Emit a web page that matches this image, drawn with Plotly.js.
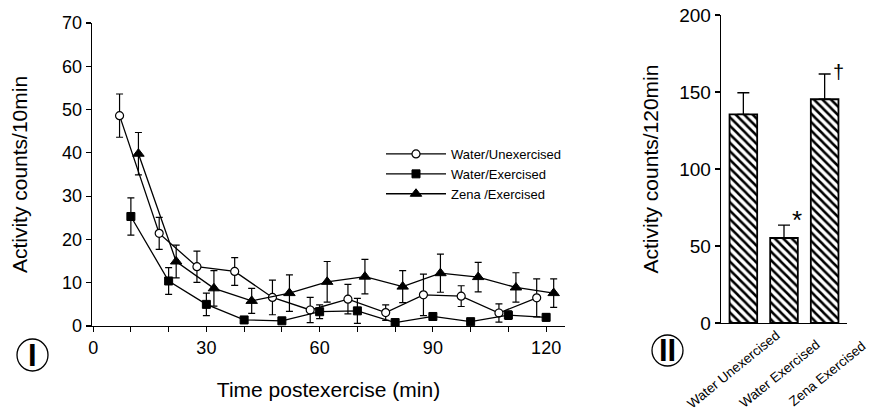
<!DOCTYPE html>
<html>
<head>
<meta charset="utf-8">
<script src="https://cdn.plot.ly/plotly-3.0.1.min.js"></script>
<style>html,body{margin:0;padding:0;background:#fff;}#chart{width:871px;height:412px;}</style>
</head>
<body>
<div id="chart"></div>
<script>
// ---- Panel I data (time course) ----
const seriesNames = ["Water/Unexercised", "Water/Exercised", "Zena /Exercised"];
const timeUnex = [7, 17.5, 27.5, 37.5, 47.5, 57.5, 67.5, 77.5, 87.5, 97.5, 107.5, 117.5];
const countsUnex = [48.6, 21.4, 13.7, 12.6, 6.6, 3.7, 6.2, 3.1, 7.2, 6.9, 3.0, 6.5];
const errUnex = [5.0, 3.7, 3.6, 3.2, 4.0, 2.9, 3.4, 1.8, 4.8, 2.4, 2.1, 4.4];
const timeEx = [10, 20, 30, 40, 50, 60, 70, 80, 90, 100, 110, 120];
const countsEx = [25.3, 10.4, 5.0, 1.4, 1.2, 3.3, 3.5, 0.8, 2.2, 1.0, 2.5, 2.0];
const errEx = [4.3, 3.1, 2.6, 0.8, 0.5, 1.6, 2.9, 0.5, 0.8, 0.5, 1.0, 0.8];
const timeZena = [12, 22, 32, 42, 52, 62, 72, 82, 92, 102, 112, 122];
const countsZena = [39.8, 14.9, 8.7, 5.8, 7.6, 10.2, 11.4, 9.1, 12.2, 11.3, 8.9, 7.6];
const errZena = [4.9, 3.8, 4.1, 2.9, 4.2, 4.7, 4.0, 3.7, 4.4, 3.4, 3.4, 3.3];
const xTickVals = [0, 10, 20, 30, 40, 50, 60, 70, 80, 90, 100, 110, 120];
const xTickText = ["0", "", "", "30", "", "", "60", "", "", "90", "", "", "120"];

// ---- Panel II data (totals) ----
const barCategories = ["Water Unexercised", "Water Exercised", "Zena Exercised"];
const barLabels = ["Water Unexercised", "Water Exercised", "Zena Exercised"];
const barTotals = [135.5, 55.2, 145.3];
const barErrors = [14.0, 8.4, 16.4];
const barMarks = ["", "*", "†"];

const W = 871, H = 412;
const px = v => v / W;
const py = v => 1 - v / H;
const font = "Liberation Sans, Arial, Helvetica, sans-serif";

function errObj(arr) {
  return {type: "data", array: arr, symmetric: true, color: "#000", thickness: 1.2, width: 3.5};
}
const lineStyle = {color: "#000", width: 1.3};

const traces = [
  {x: timeUnex, y: countsUnex, name: seriesNames[0], type: "scatter", mode: "lines+markers",
   line: lineStyle, marker: {symbol: "circle", size: 8, color: "#fff", line: {color: "#000", width: 1.2}},
   error_y: errObj(errUnex), xaxis: "x", yaxis: "y"},
  {x: timeEx, y: countsEx, name: seriesNames[1], type: "scatter", mode: "lines+markers",
   line: lineStyle, marker: {symbol: "square", size: 8, color: "#000", line: {color: "#000", width: 1}},
   error_y: errObj(errEx), xaxis: "x", yaxis: "y"},
  {x: timeZena, y: countsZena, name: seriesNames[2], type: "scatter", mode: "lines+markers",
   line: lineStyle, marker: {symbol: "triangle-up", size: 10, color: "#000", line: {color: "#000", width: 1}},
   error_y: errObj(errZena), xaxis: "x", yaxis: "y"},
  {x: barCategories, y: barTotals, type: "bar", showlegend: false, width: 0.68,
   marker: {color: "#fff", line: {color: "#000", width: 1.8},
            pattern: {shape: "\\", fgcolor: "#000", bgcolor: "#fff", size: 6, solidity: 0.42}},
   error_y: {type: "data", array: barErrors, arrayminus: barErrors.map(() => 0), symmetric: false,
             color: "#000", thickness: 1.3, width: 6},
   xaxis: "x2", yaxis: "y2"}
];

const annotations = [];
// significance marks
const markOffsets = [[0, 0], [0.33, 3.5], [0.33, 1]];
barMarks.forEach((m, i) => {
  if (!m) return;
  annotations.push({xref: "x2", yref: "y2", x: i + markOffsets[i][0], y: barTotals[i] + barErrors[i] + markOffsets[i][1],
    xanchor: "center", yanchor: "middle",
    text: m, showarrow: false, font: {family: font, size: m === "*" ? 26 : 20, color: "#000"}});
});
// rotated category labels
const labelX = [-0.25, 0.9, 2.07];
const labelY = [369, 373, 373];
barLabels.forEach((t, i) => {
  annotations.push({xref: "x2", yref: "paper", x: labelX[i], y: py(labelY[i]), text: t, textangle: -39,
    xanchor: "center", yanchor: "middle",
    showarrow: false, font: {family: font, size: 13.5, color: "#000"}});
});
// panel labels
annotations.push({xref: "paper", yref: "paper", x: px(32.5), y: py(355), text: "I", showarrow: false,
  xanchor: "center", yanchor: "middle",
  font: {family: "Liberation Sans, Arial", size: 31, color: "#000", weight: 700}});
annotations.push({xref: "paper", yref: "paper", x: px(667.5), y: py(350.5), text: "II", showarrow: false,
  xanchor: "center", yanchor: "middle",
  font: {family: "Liberation Sans, Arial", size: 31, color: "#000", weight: 700}});

const shapes = [
  {type: "circle", xref: "paper", yref: "paper", x0: px(17), x1: px(48), y0: py(371), y1: py(339),
   line: {color: "#000", width: 1.3}},
  {type: "circle", xref: "paper", yref: "paper", x0: px(652), x1: px(683), y0: py(366), y1: py(335),
   line: {color: "#000", width: 1.3}}
];

const axisCommon = {showgrid: false, zeroline: false, showline: true, linecolor: "#000", linewidth: 1.3,
  ticks: "outside", ticklen: 5, tickwidth: 1.2, tickcolor: "#000"};

const layout = {
  width: W, height: H, margin: {l: 0, r: 0, t: 0, b: 0},
  paper_bgcolor: "#fff", plot_bgcolor: "#fff",
  font: {family: font, color: "#000"},
  showlegend: true,
  legend: {x: px(381), y: py(139), xanchor: "left", yanchor: "top", bgcolor: "rgba(0,0,0,0)",
           font: {family: font, size: 13, color: "#000"}, tracegroupgap: 0, itemwidth: 60},
  xaxis: Object.assign({}, axisCommon, {domain: [px(92), px(565)], range: [-0.3, 125],
    tickvals: xTickVals, ticktext: xTickText, tickfont: {size: 18},
    title: {text: "Time postexercise (min)", font: {size: 21}, standoff: 25}, anchor: "y"}),
  yaxis: Object.assign({}, axisCommon, {domain: [py(326), py(23)], range: [0, 70], dtick: 10,
    tickfont: {size: 18}, title: {text: "Activity counts/10min", font: {size: 21}, standoff: 28}, anchor: "x"}),
  xaxis2: Object.assign({}, axisCommon, {domain: [px(721), px(847)], range: [-0.55, 2.55],
    showticklabels: false, ticks: "", anchor: "y2"}),
  yaxis2: Object.assign({}, axisCommon, {domain: [py(323), py(15)], range: [0, 200], dtick: 50,
    tickfont: {size: 19}, title: {text: "Activity counts/120min", font: {size: 21}, standoff: 14}, anchor: "x2"}),
  annotations: annotations,
  shapes: shapes
};

Plotly.newPlot("chart", traces, layout, {displayModeBar: false, staticPlot: true});
</script>
</body>
</html>
